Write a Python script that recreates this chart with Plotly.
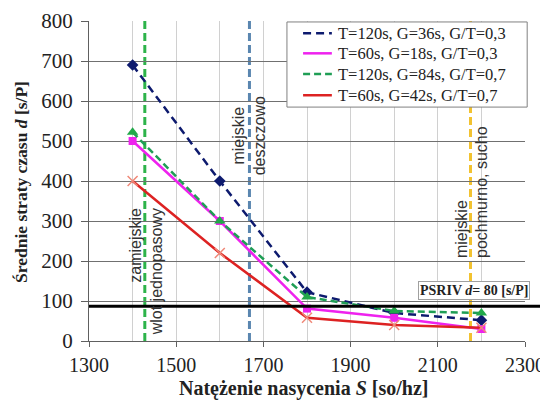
import plotly.graph_objects as go

# ---- data ----
sat_flow = [1400, 1600, 1800, 2000, 2200]
series_names = [
    "T=120s, G=36s, G/T=0,3",
    "T=60s, G=18s, G/T=0,3",
    "T=120s, G=84s, G/T=0,7",
    "T=60s, G=42s, G/T=0,7",
]
delay_t120_g36 = [690, 400, 122, 70, 52]
delay_t60_g18 = [500, 300, 81, 58, 30]
delay_t120_g84 = [522, 300, 110, 75, 70]
delay_t60_g42 = [400, 220, 58, 40, 33]

ref_lines_x = [1428, 1668, 2175]
ref_labels = [
    "zamiejskie<br>wlot jednopasowy",
    "miejskie<br>deszczowo",
    "miejskie<br>pochmurno, sucho",
]
ref_label_pos = [(1431, 172), (1669, 514), (2178, 372)]
psr_level = 87
psr_label = "<b>PSRIV <i>d</i>= 80 [s/P]</b>"

x_ticks = [1300, 1500, 1700, 1900, 2100, 2300]
y_ticks = [0, 100, 200, 300, 400, 500, 600, 700, 800]
x_title = "<b>Natężenie nasycenia <i>S</i> [so/hz]</b>"
y_title = "<b>Średnie straty czasu <i>d</i> [s/P]</b>"

SERIF = "Liberation Serif, Times New Roman, serif"
SANS = "Liberation Sans, Arial, sans-serif"

fig = go.Figure()

styles = [
    dict(line=dict(color="#0d1a6e", width=2.5, dash="8px,5px"),
         marker=dict(symbol="diamond", size=9, color="#0d1a6e")),
    dict(line=dict(color="#ee22ee", width=2.5),
         marker=dict(symbol="square", size=8, color="#ee22ee")),
    dict(line=dict(color="#1f9e55", width=2.5, dash="7px,4px"),
         marker=dict(symbol="triangle-up", size=10, color="#22a84a")),
    dict(line=dict(color="#dd2222", width=2.5),
         marker=dict(symbol="x-thin", size=10, color="#f08878",
                     line=dict(color="#f08878", width=1.5))),
]
data = [delay_t120_g36, delay_t60_g18, delay_t120_g84, delay_t60_g42]
for name, ys, st in zip(series_names, data, styles):
    fig.add_trace(go.Scatter(x=sat_flow, y=ys, name=name, mode="lines+markers",
                             line=st["line"], marker=st["marker"], showlegend=False))

vcolors = ["#2db34a", "#5a86b0", "#f2c230"]
for xv, c in zip(ref_lines_x, vcolors):
    fig.add_shape(type="line", xref="x", yref="y", x0=xv, x1=xv, y0=0, y1=800,
                  line=dict(color=c, width=3, dash="8px,4px"), layer="below")

aligns = ["right", "center", "left"]
for txt, (ax, ay), al in zip(ref_labels, ref_label_pos, aligns):
    fig.add_annotation(x=ax, y=ay, xref="x", yref="y", text=txt, showarrow=False,
                       textangle=-90, align=al, xanchor="center", yanchor="middle",
                       font=dict(family=SANS, size=16, color="#333333"))

fig.add_shape(type="line", xref="paper", yref="y", x0=0, x1=1.06,
              y0=psr_level, y1=psr_level, line=dict(color="black", width=3))

fig.add_annotation(x=0.883, y=127, xref="paper", yref="y", text=psr_label,
                   showarrow=False, xanchor="center", yanchor="middle",
                   bgcolor="white", bordercolor="#a0a0a0", borderwidth=1, borderpad=1,
                   font=dict(family=SERIF, size=14, color="#222222"))

# axis titles
fig.add_annotation(x=0.491, y=-0.19, xref="paper", yref="paper", text=x_title,
                   showarrow=False, xanchor="center", yanchor="bottom",
                   font=dict(family=SERIF, size=20, color="#222222"))
fig.add_annotation(x=-0.156, y=0.497, xref="paper", yref="paper", text=y_title,
                   showarrow=False, xanchor="center", yanchor="middle", textangle=-90,
                   font=dict(family=SERIF, size=17.5, color="#222222"))

# ---- legend (drawn as a box with samples, in paper / overlay coords) ----
leg_x0, leg_x1, leg_y0, leg_y1 = 0.454, 1.005, 0.731, 0.997
row_y = [0.962, 0.899, 0.834, 0.768]
samp_x0, samp_x1, samp_xm, text_x = 0.491, 0.557, 0.524, 0.566
fig.add_shape(type="rect", xref="paper", yref="paper", x0=leg_x0, x1=leg_x1,
              y0=leg_y0, y1=leg_y1, fillcolor="white",
              line=dict(color="#808080", width=1), layer="above")
for name, st, ry in zip(series_names, styles, row_y):
    fig.add_shape(type="line", xref="paper", yref="paper", x0=samp_x0, x1=samp_x1,
                  y0=ry, y1=ry, line=st["line"], layer="above")
    fig.add_trace(go.Scatter(x=[samp_xm], y=[ry], xaxis="x2", yaxis="y2",
                             mode="markers", marker=st["marker"], showlegend=False,
                             cliponaxis=False, hoverinfo="skip"))
    fig.add_annotation(x=text_x, y=ry, xref="paper", yref="paper", text=name,
                       showarrow=False, xanchor="left", yanchor="middle",
                       font=dict(family=SERIF, size=16.5, color="#222222"))

# the page body adds an 8px offset, so the figure is 8px smaller and margins shifted
fig.update_layout(
    width=540, height=395,
    margin=dict(l=81, r=23, t=13, b=62),
    paper_bgcolor="white", plot_bgcolor="white",
    font=dict(family=SERIF, size=19, color="#222222"),
    showlegend=False,
    xaxis=dict(range=[1300, 2300], tickvals=x_ticks, ticks="outside", ticklen=5,
               tickcolor="#606060", showline=True, linecolor="#606060", linewidth=1,
               showgrid=True, gridcolor="#d0d0d0", gridwidth=1,
               minor=dict(dtick=100, showgrid=True, gridcolor="#d0d0d0", ticks=""),
               tickfont=dict(family=SERIF, size=20), ticklabelstandoff=1,
               zeroline=False, automargin=False),
    yaxis=dict(range=[0, 800], tickvals=y_ticks, ticks="outside", ticklen=7,
               tickcolor="#606060", showline=True, linecolor="#606060", linewidth=1,
               showgrid=True, gridcolor="#707070", gridwidth=1,
               tickfont=dict(family=SERIF, size=21), ticklabelstandoff=4,
               zeroline=False, automargin=False),
    xaxis2=dict(overlaying="x", range=[0, 1], visible=False, fixedrange=True),
    yaxis2=dict(overlaying="y", range=[0, 1], visible=False, fixedrange=True),
)

fig.write_html("out.html")
